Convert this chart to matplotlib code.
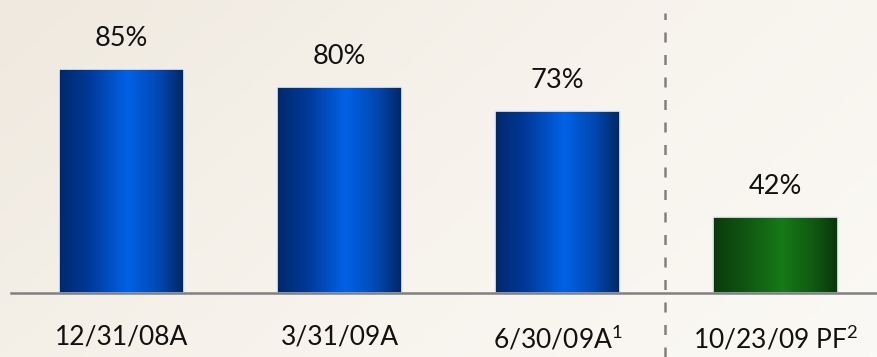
import numpy as np
import matplotlib.pyplot as plt
from matplotlib.colors import LinearSegmentedColormap
from matplotlib.patches import Rectangle

# data
periods = ["12/31/08A", "3/31/09A", "6/30/09A$^{1}$", "10/23/09 PF$^{2}$"]
ratios = [85, 80, 73, 42]
bar_kind = ["blue", "blue", "blue", "green"]

plt.rcParams['font.family'] = ['Lato', 'DejaVu Sans']
plt.rcParams['mathtext.fontset'] = 'custom'
plt.rcParams['mathtext.rm'] = 'Lato'
plt.rcParams['mathtext.it'] = 'Lato'

W, H = 877, 357
fig = plt.figure(figsize=(W / 100, H / 100), dpi=100)

# cream background
bg = fig.add_axes([0, 0, 1, 1], zorder=-10)
xx = np.linspace(0, 1, 200)
yy = np.linspace(0, 1, 100)
gx, gy = np.meshgrid(xx, yy)
shade = 0.55 * gx + 0.25 * (1 - gy)
bg_cmap = LinearSegmentedColormap.from_list("bg", ["#EFE9DF", "#F7F3EC", "#FBF9F5"])
bg.imshow(shade, cmap=bg_cmap, aspect='auto', extent=[0, 1, 0, 1], origin='lower')
bg.axis('off')

cmaps = {
    "blue": LinearSegmentedColormap.from_list(
        "b", [(0, "#00286A"), (0.25, "#003A9A"), (0.55, "#0062E6"), (0.8, "#0048B0"), (1, "#002763")]),
    "green": LinearSegmentedColormap.from_list(
        "g", [(0, "#0A3A0C"), (0.25, "#0F5512"), (0.55, "#177A18"), (0.8, "#105A12"), (1, "#0A360B")]),
}

base_px = 64
ax = fig.add_axes([11 / W, base_px / H, (W - 11) / W, (H - base_px) / H])
ax.patch.set_alpha(0)
ymin, ymax = 20, 105.2
ax.set_ylim(ymin, ymax)
ax.set_xlim(-0.507, 3.466)

x = np.arange(len(ratios))
width = 0.573
bars = ax.bar(x, [r - ymin for r in ratios], bottom=ymin, width=width,
              color='none', edgecolor='#E8EEF6', linewidth=1.2, zorder=2)

grad = np.linspace(0, 1, 256).reshape(1, -1)
for b, kind, val in zip(bars, bar_kind, ratios):
    bx, by = b.get_x(), b.get_y()
    bw, bh = b.get_width(), b.get_height()
    im = ax.imshow(grad, cmap=cmaps[kind], aspect='auto',
                   extent=[bx, bx + bw, by, by + bh], zorder=1)
    clip = Rectangle((bx, by), bw, bh, transform=ax.transData)
    im.set_clip_path(clip)
    ax.annotate(f"{val}%", (bx + bw / 2, by + bh), xytext=(0, 22),
                textcoords='offset points', ha='center', va='center',
                fontsize=19.5, color='#111111')

ax.set_xticks(x)
ax.set_xticklabels(periods, fontsize=19, color='#111111')
ax.tick_params(axis='x', length=0, pad=23)
ax.set_yticks([])
for s in ['top', 'right', 'left']:
    ax.spines[s].set_visible(False)
ax.spines['bottom'].set_color('#808080')
ax.spines['bottom'].set_linewidth(1.8)
ax.spines['bottom'].set_zorder(3)

# separator between actual and pro forma
ax.axvline(2.493, ymin=-base_px / (H - base_px), ymax=(H - 13 - base_px) / (H - base_px),
           color='#808080', linestyle=(0, (4, 5)), linewidth=1.8, clip_on=False)

fig.savefig("out.png", dpi=100)
